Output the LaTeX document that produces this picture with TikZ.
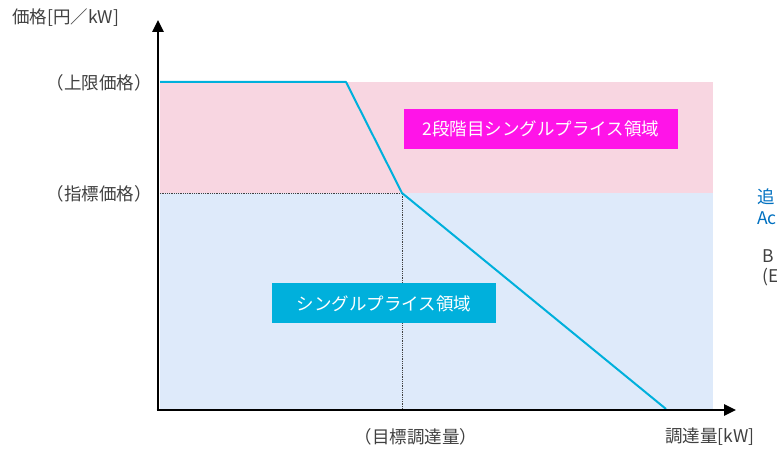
\documentclass[tikz,border=0pt]{standalone}
\usepackage{fontspec}
\setmainfont{Noto Sans CJK JP}
\usetikzlibrary{arrows.meta,positioning}
\definecolor{pinkarea}{RGB}{248,214,225}
\definecolor{bluearea}{RGB}{222,234,250}
\definecolor{cyanline}{RGB}{0,176,220}
\definecolor{magentabox}{RGB}{255,20,232}
\definecolor{labelgray}{RGB}{64,64,64}
\definecolor{noteblue}{RGB}{0,112,192}

\begin{document}
\begin{tikzpicture}[x=1pt,y=-1pt,
  lbl/.style={text=labelgray,font=\fontsize{17.5}{20}\selectfont,inner sep=0pt},
  areabox/.style={text=white,font=\fontsize{17.5}{20}\selectfont,minimum height=40pt,inner sep=0pt},
  axis/.style={line width=2.6pt,-{Triangle[length=12pt,width=11pt]}},
  curve/.style={cyanline,line width=2pt,line join=round}]
\useasboundingbox (0,0) rectangle (777,449);
% areas
\fill[pinkarea] (160,82) rectangle (713,193);
\fill[bluearea] (160,193) rectangle (713,410);
% points of the curve
\coordinate (o) at (158,410);
\coordinate (ytop) at (158,20);
\coordinate (xend) at (736,410);
\coordinate (cap) at (160,82);
\coordinate (knee) at (346,82);
\coordinate (idx) at (402,193);
\coordinate (zero) at (666,409);
\draw[labelgray,densely dotted,line width=0.8pt] (idx -| o) -- (idx) -- (idx |- o);
\draw[curve] (cap) -- (knee) -- (idx) -- (zero);
\draw[axis] (o) -- (ytop);
\draw[axis] ([xshift=-1.3pt]o) -- (xend);
% boxes
\node[areabox,fill=magentabox,minimum width=274pt] (second) at (541,129) {2段階目シングルプライス領域};
\node[areabox,fill=cyanline,minimum width=224pt] (single) at (384,303.5) {シングルプライス領域};
% labels
\node[lbl,anchor=west] (yname) at (12,18) {価格[円／kW]};
\node[lbl,anchor=east] (upper) at (152,83) {（上限価格）};
\node[lbl,anchor=east] (index) at (152,194) {（指標価格）};
\node[lbl] (target) at (416,437) {（目標調達量）};
\node[lbl,anchor=west] (xname) at (665,437) {調達量[kW]};
% cut off notes at the right edge
\node[lbl,text=noteblue,anchor=west] (note1) at (757,197) {追};
\node[lbl,text=noteblue,anchor=west] (note2) at (757,218) {Ac};
\node[lbl,anchor=west] (note3) at (762,256) {B};
\node[lbl,anchor=west] (note4) at (762,277) {(E};
\end{tikzpicture}
\end{document}
